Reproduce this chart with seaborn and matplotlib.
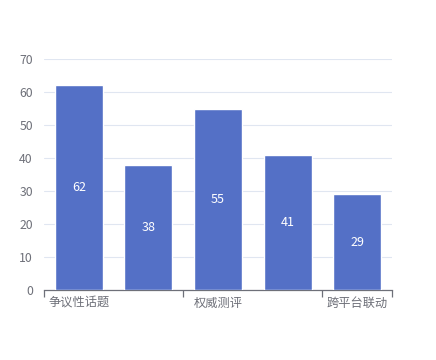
import matplotlib
matplotlib.use("Agg")
import matplotlib.pyplot as plt
import seaborn as sns
import pandas as pd


# =========================
# Data
# =========================

categories = ["争议性话题", "类别2", "权威测评", "类别4", "跨平台联动"]

values = [62, 38, 55, 41, 29]

# only every other category label is shown in the reference
shown_labels = ["争议性话题", "", "权威测评", "", "跨平台联动"]

y_ticks = [0, 10, 20, 30, 40, 50, 60, 70]


df = pd.DataFrame({"category": categories, "value": values})


# =========================
# Style
# =========================

sns.set_style("white")

plt.rcParams["font.family"] = ["Noto Sans CJK SC", "DejaVu Sans"]

BAR = "#5470c6"
TEXT = "#6e7079"
GRID = "#e0e6f1"


# =========================
# Plot
# =========================

fig = plt.figure(figsize=(4.36, 3.6), dpi=100)

ax = fig.add_axes([44 / 436, 70 / 360, 348 / 436, 231 / 360])

sns.barplot(
    data=df,
    x="category",
    y="value",
    order=categories,
    color=BAR,
    saturation=1,
    width=0.69,
    ax=ax,
    zorder=3
)

for bar, v in zip(ax.patches, values):
    ax.text(
        bar.get_x() + bar.get_width() / 2,
        v / 2,
        str(v),
        ha="center",
        va="center",
        color="white",
        fontsize=9,
        zorder=4
    )

ax.set_xlim(-0.5, len(categories) - 0.5)
ax.set_ylim(0, 70)
ax.set_yticks(y_ticks)

ax.yaxis.grid(True, color=GRID, linewidth=0.8, zorder=0)
ax.set_axisbelow(True)

for side in ["top", "right", "left"]:
    ax.spines[side].set_visible(False)

ax.spines["bottom"].set_color(TEXT)
ax.spines["bottom"].set_linewidth(0.9)

ax.set_xticks(range(len(categories)))
ax.set_xticklabels(shown_labels)
ax.tick_params(axis="x", length=0, pad=5, labelsize=8.8, labelcolor=TEXT)

ax.set_xticks([-0.5, 1.5, 3.5, 4.5], minor=True)
ax.tick_params(
    axis="x",
    which="minor",
    bottom=True,
    direction="out",
    length=5,
    width=0.9,
    color=TEXT
)

ax.tick_params(axis="y", length=0, pad=8, labelsize=8.8, labelcolor=TEXT)

ax.set_xlabel("")
ax.set_ylabel("")


plt.savefig("out.png", dpi=100)
